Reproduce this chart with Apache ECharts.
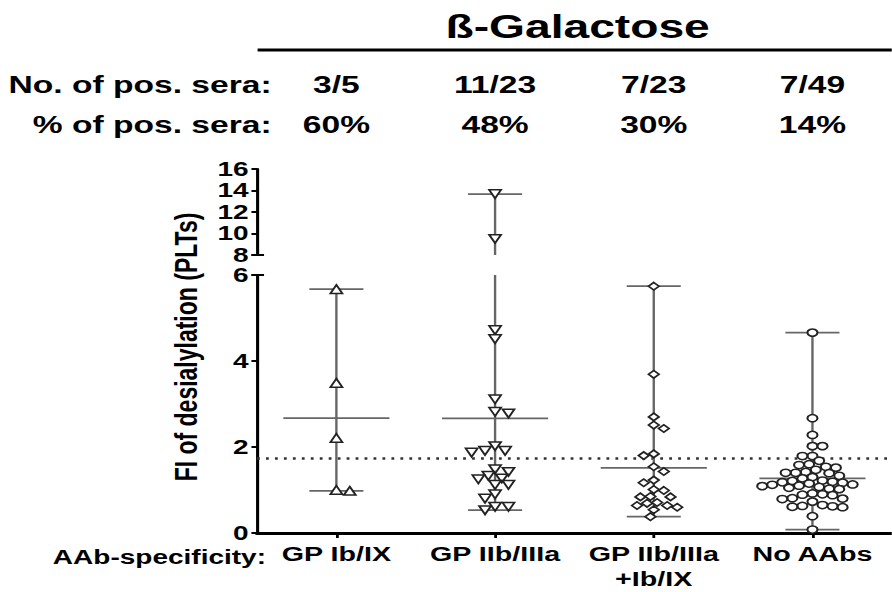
<!DOCTYPE html>
<html><head><meta charset="utf-8">
<script src="https://cdn.jsdelivr.net/npm/echarts@6/dist/echarts.min.js"></script>
<style>
html,body{margin:0;padding:0;background:#fff;overflow:hidden;width:892px;height:592px}
#chart{width:637px;height:592px;transform:scaleX(1.4);transform-origin:0 0}
</style></head><body><div id="chart"></div>
<script>
// ---- data ----
const categories = ['GP Ib/IX', 'GP IIb/IIIa', 'GP IIb/IIIa\n+Ib/IX', 'No AAbs'];
const posSera = ['3/5', '11/23', '7/23', '7/49'];
const pctSera = ['60%', '48%', '30%', '14%'];
const gpIbIX = [5.67, 3.49, 2.21, 1.00, 0.98];
const gpIIbIIIa = [13.67, 9.5, 4.72, 4.51, 3.11, 2.82, 2.78, 2.02, 1.91, 1.87, 1.91, 1.48, 1.42, 1.33, 1.25, 1.27, 1.12, 1.12, 0.90, 0.80, 0.61, 0.61, 0.53];
const gpBoth = [5.74, 3.69, 2.70, 2.51, 2.43, 1.80, 1.84, 1.54, 1.43, 1.17, 1.23, 0.99, 1.01, 0.84, 0.84, 0.85, 0.71, 0.64, 0.60, 0.64, 0.54, 0.69, 0.38];
const noAAbs = [4.66, 2.67, 2.28, 2.02, 2.02, 1.79, 1.79,
  1.68, 1.60, 1.58, 1.54, 1.52, 1.47,
  1.42, 1.40, 1.40, 1.39, 1.33, 1.30, 1.27,
  1.22, 1.21, 1.19, 1.18, 1.17, 1.15, 1.13, 1.12, 1.10, 1.09,
  1.07, 1.05, 1.03, 1.02,
  0.92, 0.90, 0.89, 0.88,
  0.81, 0.80, 0.73, 0.79,
  0.65, 0.63, 0.62, 0.61, 0.60,
  0.39, 0.08];
const cutoff = 1.74;
const upperRange = [8, 16];
const lowerRange = [0, 6];

// ---- styles ----
const groups = [gpIbIX, gpIIbIIIa, gpBoth, noAAbs];
const symbols = ['triangle', 'triangle', 'diamond', 'circle'];
const rotations = [0, 180, 0, 0];
const symSizes = [8.5, 8.5, 7.5, 7.2];
const S = 1.4; // horizontal stretch of the page
const FONT = '"Liberation Sans", Arial, sans-serif';
const GRAY = '#666';
const gridLeft = 183.6, gridWidth = 462.8;

const chart = echarts.init(document.getElementById('chart'), null, {renderer: 'svg'});

const yLabel = {fontSize: 20, fontWeight: 'bold', color: '#000', fontFamily: FONT, margin: 6};
const axLine = {show: true, lineStyle: {color: '#000', width: 2.2}};
const axTick = {show: true, length: 4, lineStyle: {color: '#000', width: 2}};

chart.setOption({
  animation: false,
  grid: [
    {left: gridLeft, width: gridWidth, top: 169, height: 86},
    {left: gridLeft, width: gridWidth, top: 275, height: 258}
  ],
  xAxis: [
    {gridIndex: 0, type: 'value', min: 0, max: 4, show: false},
    {gridIndex: 1, type: 'value', min: 0, max: 4, show: false},
    {gridIndex: 1, type: 'category', data: categories, position: 'bottom',
      axisLine: {show: true, onZero: false, lineStyle: {color: '#000', width: 3}},
      axisTick: {show: true, alignWithLabel: true, length: 5, lineStyle: {color: '#000', width: 2}},
      axisLabel: {fontSize: 20.5, fontWeight: 'bold', color: '#000', fontFamily: FONT, margin: 8, lineHeight: 25, interval: 0}},
    {gridIndex: 0, type: 'category', data: posSera, position: 'top', offset: 72,
      axisLine: {show: false}, axisTick: {show: false},
      axisLabel: {fontSize: 24, fontWeight: 'bold', color: '#000', fontFamily: FONT, margin: 0, interval: 0}},
    {gridIndex: 0, type: 'category', data: pctSera, position: 'top', offset: 32,
      axisLine: {show: false}, axisTick: {show: false},
      axisLabel: {fontSize: 24, fontWeight: 'bold', color: '#000', fontFamily: FONT, margin: 0, interval: 0}}
  ],
  yAxis: [
    {gridIndex: 0, type: 'value', min: upperRange[0], max: upperRange[1], interval: 2,
      axisLine: axLine, axisTick: axTick, axisLabel: yLabel, splitLine: {show: false}},
    {gridIndex: 1, type: 'value', min: lowerRange[0], max: lowerRange[1], interval: 2,
      axisLine: axLine, axisTick: axTick, axisLabel: yLabel, splitLine: {show: false}}
  ]
});

// ---- beeswarm offsets computed from pixel positions ----
const pxX = chart.convertToPixel({xAxisIndex: 1}, 1) - chart.convertToPixel({xAxisIndex: 1}, 0);
function inUpper(v) { return v > (lowerRange[1] + upperRange[0]) / 2; }
function yPix(v) { return inUpper(v) ? chart.convertToPixel({yAxisIndex: 0}, v) : chart.convertToPixel({yAxisIndex: 1}, v); }

function swarm(values, size) {
  const w = size * S, h = size, step = 3.35;
  const placed = [];
  const out = new Array(values.length);
  const order = values.map((v, i) => ({v, i})).sort((a, b) => b.v - a.v);
  let flip = 1;
  order.forEach(p => {
    const y = yPix(p.v), part = inUpper(p.v);
    for (let k = 0; k < 120; k++) {
      const cands = k === 0 ? [0] : [k * flip, -k * flip];
      let found = null;
      for (const c of cands) {
        const dx = c * step;
        const ok = placed.every(q => q.part !== part || Math.hypot((q.dx - dx) / w, (q.y - y) / h) >= 0.92);
        if (ok) { found = dx; break; }
      }
      if (found !== null) { placed.push({dx: found, y, part}); out[p.i] = found; if (found !== 0) flip = -flip; break; }
    }
  });
  return out.map(d => d / S / pxX); // to data units
}

const stats = groups.map((vals, i) => [i, Math.min(...vals), Math.max(...vals), vals.reduce((a, b) => a + b, 0) / vals.length]);

const lineStyle = {stroke: GRAY, lineWidth: 1.7};
const capHW = 19.3, meanHW = 37.9;
function whisker(gridIdx, range) {
  return {
    type: 'custom', xAxisIndex: gridIdx, yAxisIndex: gridIdx, data: stats, z: 2, silent: true,
    renderItem(params, api) {
      const g = api.value(0), mn = api.value(1), mx = api.value(2), mean = api.value(3);
      const lo = range[0], hi = range[1];
      if (mx < lo || mn > hi) return;
      const cx = g + 0.5;
      const p0 = api.coord([cx, Math.max(mn, lo)]), p1 = api.coord([cx, Math.min(mx, hi)]);
      const children = [{type: 'line', shape: {x1: p0[0], y1: p0[1], x2: p1[0], y2: p1[1]}, style: lineStyle}];
      const bar = (v, hw) => {
        const p = api.coord([cx, v]);
        children.push({type: 'line', shape: {x1: p[0] - hw, y1: p[1], x2: p[0] + hw, y2: p[1]}, style: lineStyle});
      };
      if (mx >= lo && mx <= hi) bar(mx, capHW);
      if (mn >= lo && mn <= hi) bar(mn, capHW);
      if (mean >= lo && mean <= hi) bar(mean, meanHW);
      return {type: 'group', children};
    }
  };
}

const series = [whisker(0, upperRange), whisker(1, lowerRange)];
groups.forEach((vals, gi) => {
  const offs = swarm(vals, symSizes[gi]);
  const up = [], low = [];
  vals.forEach((v, i) => { (inUpper(v) ? up : low).push([gi + 0.5 + offs[i], v]); });
  const base = {type: 'scatter', symbol: symbols[gi], symbolRotate: rotations[gi], symbolSize: symSizes[gi], z: 5,
    itemStyle: {color: '#fff', borderColor: '#222', borderWidth: 1.5, opacity: 1}, silent: true};
  if (up.length) series.push(Object.assign({}, base, {xAxisIndex: 0, yAxisIndex: 0, data: up}));
  const s = Object.assign({}, base, {xAxisIndex: 1, yAxisIndex: 1, data: low});
  if (gi === 0) {
    s.markLine = {silent: true, symbol: 'none', label: {show: false}, z: 1,
      lineStyle: {type: [2, 4.4], color: '#333', width: 2.5}, data: [{yAxis: cutoff}]};
  }
  series.push(s);
});

// axis break end marks
const axX = chart.convertToPixel({xAxisIndex: 1}, 0);
const y6 = chart.convertToPixel({yAxisIndex: 1}, lowerRange[1]);
const y8 = chart.convertToPixel({yAxisIndex: 0}, upperRange[0]);

chart.setOption({
  series,
  graphic: [
    {type: 'text', x: 412.6, y: 27, style: {text: 'ß-Galactose', align: 'center', verticalAlign: 'middle', fontSize: 33, fontWeight: 'bold', fontFamily: FONT, fill: '#000'}},
    {type: 'line', shape: {x1: 184, y1: 50, x2: 640, y2: 50}, style: {stroke: '#000', lineWidth: 3}},
    {type: 'text', x: 194, y: 85, style: {text: 'No. of pos. sera:', align: 'right', verticalAlign: 'middle', fontSize: 24, fontWeight: 'bold', fontFamily: FONT, fill: '#000'}},
    {type: 'text', x: 194, y: 125, style: {text: '% of pos. sera:', align: 'right', verticalAlign: 'middle', fontSize: 24, fontWeight: 'bold', fontFamily: FONT, fill: '#000'}},
    {type: 'text', x: 190, y: 557, style: {text: 'AAb-specificity:', align: 'right', verticalAlign: 'middle', fontSize: 20, fontWeight: 'bold', fontFamily: FONT, fill: '#000'}},
    {type: 'text', x: 133, y: 347, rotation: Math.PI / 2, style: {text: 'FI of desialylation (PLTs)', align: 'center', verticalAlign: 'middle', fontSize: 23, fontWeight: 'bold', fontFamily: FONT, fill: '#000'}},
    {type: 'line', shape: {x1: axX - 4, y1: y6, x2: axX + 5, y2: y6}, style: {stroke: '#000', lineWidth: 2}},
    {type: 'line', shape: {x1: axX - 4, y1: y8, x2: axX + 5, y2: y8}, style: {stroke: '#000', lineWidth: 2}}
  ]
});
</script></body></html>
